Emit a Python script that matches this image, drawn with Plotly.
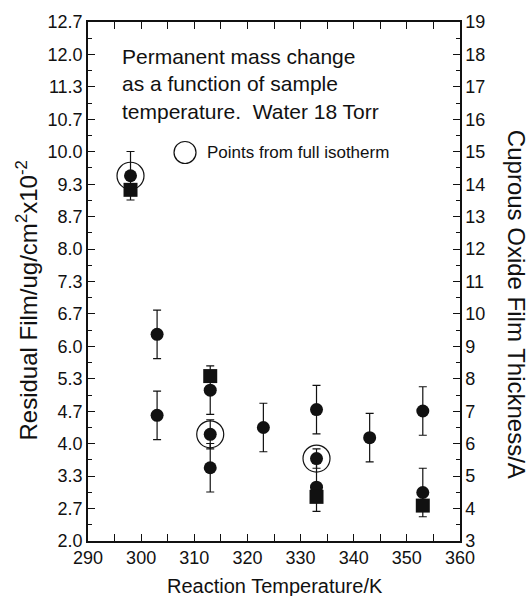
import numpy as np
import plotly.graph_objects as go

# Residual film (ug/cm^2 x10^-2) against reaction temperature (K)
circle_temp = [298, 303, 303, 313, 313, 313, 323, 333, 333, 333, 343, 353, 353]
circle_film = [9.53, 6.26, 4.59, 5.11, 4.20, 3.51, 4.34, 4.71, 3.70, 3.11, 4.13, 4.68, 3.00]
circle_err = [0.5, 0.5, 0.5, 0.5, 0.3, 0.5, 0.5, 0.5, 0.2, 0.5, 0.5, 0.5, 0.5]

square_temp = [298, 313, 333, 353]
square_film = [9.24, 5.40, 2.91, 2.73]

# points taken from a full isotherm
iso_temp = [298, 313, 333]
iso_film = [9.53, 4.20, 3.70]

left_ticks = ["2.0", "2.7", "3.3", "4.0", "4.7", "5.3", "6.0", "6.7", "7.3",
              "8.0", "8.7", "9.3", "10.0", "10.7", "11.3", "12.0", "12.7"]
y_min, y_max = 2.0, 12.7
thick_min, thick_max = 3, 19

FONT = "Liberation Sans, Arial, Helvetica, sans-serif"
BLACK = "#111111"

left_vals = np.linspace(y_min, y_max, len(left_ticks))
left_minor = (left_vals[:-1] + left_vals[1:]) / 2

fig = go.Figure()

fig.add_trace(go.Scatter(
    x=circle_temp, y=circle_film, mode="markers",
    marker=dict(symbol="circle", size=13, color=BLACK),
    error_y=dict(type="data", array=circle_err, visible=True,
                 color=BLACK, thickness=1.2, width=4),
    showlegend=False,
))
fig.add_trace(go.Scatter(
    x=square_temp, y=square_film, mode="markers",
    marker=dict(symbol="square", size=14, color=BLACK),
    showlegend=False,
))
fig.add_trace(go.Scatter(
    x=iso_temp, y=iso_film, mode="markers",
    marker=dict(symbol="circle-open", size=27, color=BLACK,
                line=dict(width=1.2, color=BLACK)),
    showlegend=False,
))
# carrier trace for the right-hand thickness axis
fig.add_trace(go.Scatter(
    x=[290, 360], y=[thick_min, thick_max], yaxis="y2", mode="markers",
    marker=dict(opacity=0), hoverinfo="skip", showlegend=False,
))

axis_common = dict(
    showline=True, linecolor=BLACK, linewidth=1.5,
    ticks="inside", ticklen=7, tickwidth=1.2, tickcolor=BLACK,
    showgrid=False, zeroline=False,
    tickfont=dict(family=FONT, size=18, color=BLACK),
)

fig.update_layout(
    width=531, height=596,
    margin=dict(l=88, r=71, t=20, b=55),
    paper_bgcolor="white", plot_bgcolor="white",
    font=dict(family=FONT, color=BLACK),
    xaxis=dict(
        range=[290, 360], dtick=10, tick0=290, mirror="allticks",
        minor=dict(dtick=5, ticks="inside", ticklen=4, tickcolor=BLACK),
        **axis_common,
    ),
    yaxis=dict(
        range=[y_min, y_max], tickmode="array",
        tickvals=list(left_vals), ticktext=left_ticks,
        minor=dict(tickmode="array", tickvals=list(left_minor),
                   ticks="inside", ticklen=4, tickcolor=BLACK),
        **axis_common,
    ),
    yaxis2=dict(
        range=[thick_min, thick_max], dtick=1, overlaying="y", side="right",
        minor=dict(dtick=0.5, ticks="inside", ticklen=4, tickcolor=BLACK),
        **axis_common,
    ),
)

# legend key for the isotherm points
fig.add_shape(type="circle", xref="paper", yref="paper",
              xsizemode="pixel", ysizemode="pixel",
              xanchor=0.2608, yanchor=0.7486,
              x0=-11, x1=11, y0=-11, y1=11,
              line=dict(color=BLACK, width=1.2))
fig.add_annotation(xref="paper", yref="paper", x=0.3145, y=0.7486,
                   xanchor="left", yanchor="middle", showarrow=False,
                   text="Points from full isotherm",
                   font=dict(family=FONT, size=17, color=BLACK))

fig.add_annotation(xref="paper", yref="paper", x=0.086, y=0.881,
                   xanchor="left", yanchor="middle", align="left", showarrow=False,
                   text="Permanent mass change<br>as a function of sample<br>"
                        "temperature.  Water 18 Torr",
                   font=dict(family=FONT, size=21, color=BLACK))

# axis titles
fig.add_annotation(xref="paper", yref="paper", x=0.503, y=-0.0864,
                   xanchor="center", yanchor="middle", showarrow=False,
                   text="Reaction Temperature/K",
                   font=dict(family=FONT, size=20, color=BLACK))
fig.add_annotation(xref="paper", yref="paper", x=-0.165, y=0.4626,
                   xanchor="center", yanchor="middle", showarrow=False,
                   textangle=-90,
                   text="Residual Film/ug/cm<sup>2</sup>x10<sup>-2</sup>",
                   font=dict(family=FONT, size=24, color=BLACK))
fig.add_annotation(xref="paper", yref="paper", x=1.1505, y=0.455,
                   xanchor="center", yanchor="middle", showarrow=False,
                   textangle=90,
                   text="Cuprous Oxide Film Thickness/A",
                   font=dict(family=FONT, size=24, color=BLACK))

fig.write_html("out.html")
